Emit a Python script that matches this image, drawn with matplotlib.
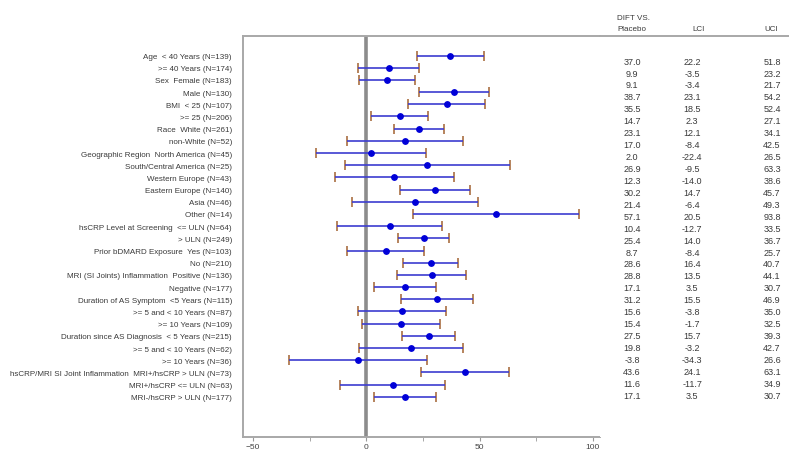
import matplotlib
matplotlib.use('Agg')
import matplotlib.pyplot as plt

plt.rcParams['font.family'] = ['Liberation Sans', 'DejaVu Sans']

labels = [
    'Age  < 40 Years (N=139)',
    '>= 40 Years (N=174)',
    'Sex  Female (N=183)',
    'Male (N=130)',
    'BMI  < 25 (N=107)',
    '>= 25 (N=206)',
    'Race  White (N=261)',
    'non-White (N=52)',
    'Geographic Region  North America (N=45)',
    'South/Central America (N=25)',
    'Western Europe (N=43)',
    'Eastern Europe (N=140)',
    'Asia (N=46)',
    'Other (N=14)',
    'hsCRP Level at Screening  <= ULN (N=64)',
    '> ULN (N=249)',
    'Prior bDMARD Exposure  Yes (N=103)',
    'No (N=210)',
    'MRI (SI Joints) Inflammation  Positive (N=136)',
    'Negative (N=177)',
    'Duration of AS Symptom  <5 Years (N=115)',
    '>= 5 and < 10 Years (N=87)',
    '>= 10 Years (N=109)',
    'Duration since AS Diagnosis  < 5 Years (N=215)',
    '>= 5 and < 10 Years (N=62)',
    '>= 10 Years (N=36)',
    'hsCRP/MRI SI Joint Inflammation  MRI+/hsCRP > ULN (N=73)',
    'MRI+/hsCRP <= ULN (N=63)',
    'MRI-/hsCRP > ULN (N=177)',
]

diff = [37.0, 9.9, 9.1, 38.7, 35.5, 14.7, 23.1, 17.0, 2.0, 26.9, 12.3, 30.2,
        21.4, 57.1, 10.4, 25.4, 8.7, 28.6, 28.8, 17.1, 31.2, 15.6, 15.4, 27.5,
        19.8, -3.8, 43.6, 11.6, 17.1]
lci = [22.2, -3.5, -3.4, 23.1, 18.5, 2.3, 12.1, -8.4, -22.4, -9.5, -14.0, 14.7,
       -6.4, 20.5, -12.7, 14.0, -8.4, 16.4, 13.5, 3.5, 15.5, -3.8, -1.7, 15.7,
       -3.2, -34.3, 24.1, -11.7, 3.5]
uci = [51.8, 23.2, 21.7, 54.2, 52.4, 27.1, 34.1, 42.5, 26.5, 63.3, 38.6, 45.7,
       49.3, 93.8, 33.5, 36.7, 25.7, 40.7, 44.1, 30.7, 46.9, 35.0, 32.5, 39.3,
       42.7, 26.6, 63.1, 34.9, 30.7]

rows = list(range(len(labels)))
err_lo = [d - l for d, l in zip(diff, lci)]
err_hi = [u - d for d, u in zip(diff, uci)]

fig = plt.figure(figsize=(7.89, 4.52), dpi=100)
ax = fig.add_axes([0.308, 0.031, 0.452, 0.887])

ax.axvline(0, color='#8c8c8c', lw=2.6, zorder=1)
eb = ax.errorbar(diff, rows, xerr=[err_lo, err_hi], fmt='o', color='#0000d8',
                 ecolor='#3c3cd0', elinewidth=1.2, capsize=3.6, capthick=1.3,
                 markersize=3.9, zorder=3)
for cap in eb[1]:
    cap.set_markeredgecolor('#b07a50')
    cap.set_zorder(2)

ax.set_xlim(-54.4, 103)
ax.set_ylim(31.3, -1.6)
ax.set_yticks(rows)
ax.set_yticklabels(labels, fontsize=5.75, color='#3a3a3a')
ax.tick_params(axis='y', length=0, pad=8)
ax.set_xticks([-50, 0, 50, 100])
ax.set_xticks([-25, 25, 75], minor=True)
ax.tick_params(axis='x', which='both', length=3, color='#999999',
               labelsize=6, labelcolor='#444444', pad=1.2)
for side in ['left', 'top', 'bottom']:
    ax.spines[side].set_color('#a8a8a8')
    ax.spines[side].set_linewidth(1.4)
ax.spines['right'].set_visible(False)

# table of numbers at the right
tab = fig.add_axes([0.7605, 0.031, 0.2395, 0.887])
tab.set_xlim(0, 1)
tab.set_ylim(31.5, -2.1)
tab.set_xticks([])
tab.set_yticks([])
for side in ['left', 'right', 'bottom']:
    tab.spines[side].set_visible(False)
tab.spines['top'].set_color('#a8a8a8')
tab.spines['top'].set_linewidth(1.4)

for i in rows:
    tab.text(0.169, i, f'{diff[i]:.1f}', ha='center', va='center',
             fontsize=6.5, color='#3a3a3a')
    tab.text(0.487, i, f'{lci[i]:.1f}', ha='center', va='center',
             fontsize=6.5, color='#3a3a3a')
    tab.text(0.910, i, f'{uci[i]:.1f}', ha='center', va='center',
             fontsize=6.5, color='#3a3a3a')

tab.text(0.09, 1.047, 'DIFT VS.', transform=tab.transAxes, ha='left',
         va='center', fontsize=5.8, color='#3a3a3a')
tab.text(0.09, 1.020, 'Placebo', transform=tab.transAxes, ha='left',
         va='center', fontsize=5.8, color='#3a3a3a')
tab.text(0.519, 1.020, 'LCI', transform=tab.transAxes, ha='center',
         va='center', fontsize=5.8, color='#3a3a3a')
tab.text(0.905, 1.020, 'UCI', transform=tab.transAxes, ha='center',
         va='center', fontsize=5.8, color='#3a3a3a')

fig.savefig('out.png', dpi=100)
